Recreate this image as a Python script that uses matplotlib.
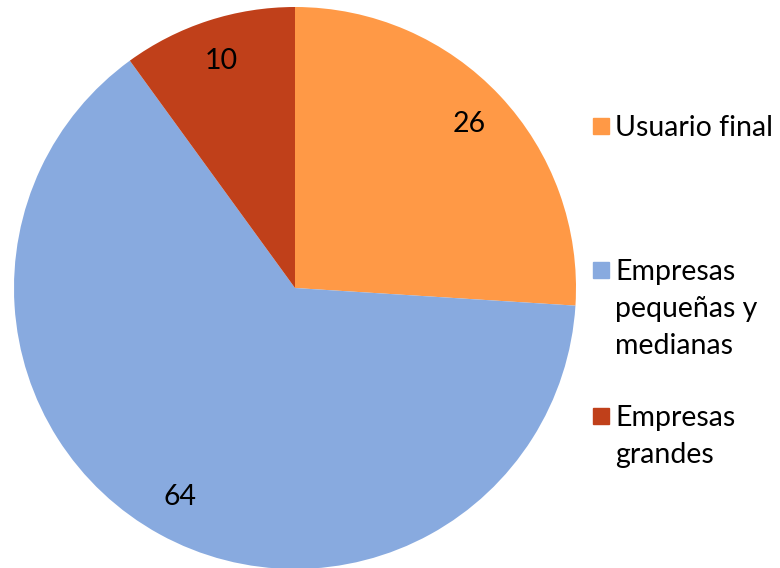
import matplotlib
matplotlib.use("Agg")
import matplotlib.pyplot as plt
from matplotlib.patches import Rectangle

categories = ["Usuario final", "Empresas\npequeñas y\nmedianas", "Empresas\ngrandes"]
values = [26, 64, 10]
colors = ["#FF9946", "#88AADF", "#C0401A"]

# legend rows: centre of each entry's first line, in pixels from top
legend_y = [128, 272, 418]
line_step = 37

W, H = 780, 568
plt.rcParams["font.family"] = ["Lato", "DejaVu Sans"]

fig = plt.figure(figsize=(W / 100, H / 100), dpi=100)
cx, cy, r = 295, 288, 281
ax = fig.add_axes([(cx - r) / W, (H - cy - r) / H, 2 * r / W, 2 * r / H])
wedges, texts = ax.pie(values, colors=colors, startangle=90, counterclock=False,
                       labels=[str(v) for v in values], labeldistance=0.85,
                       wedgeprops=dict(linewidth=0))
for t in texts:
    t.set_fontsize(20.5)
    t.set_ha("center")
    t.set_va("center")
ax.set_xlim(-1, 1)
ax.set_ylim(-1, 1)
ax.set_aspect("equal")
ax.axis("off")

for lab, col, y in zip(categories, colors, legend_y):
    fig.patches.append(Rectangle((593 / W, 1 - (y + 6) / H), 16 / W, 16 / H,
                                 transform=fig.transFigure, color=col))
    for i, line in enumerate(lab.split("\n")):
        fig.text(615 / W, 1 - (y + i * line_step) / H, line, fontsize=20.5,
                 va="center", ha="left")

fig.savefig("out.png", dpi=100)
